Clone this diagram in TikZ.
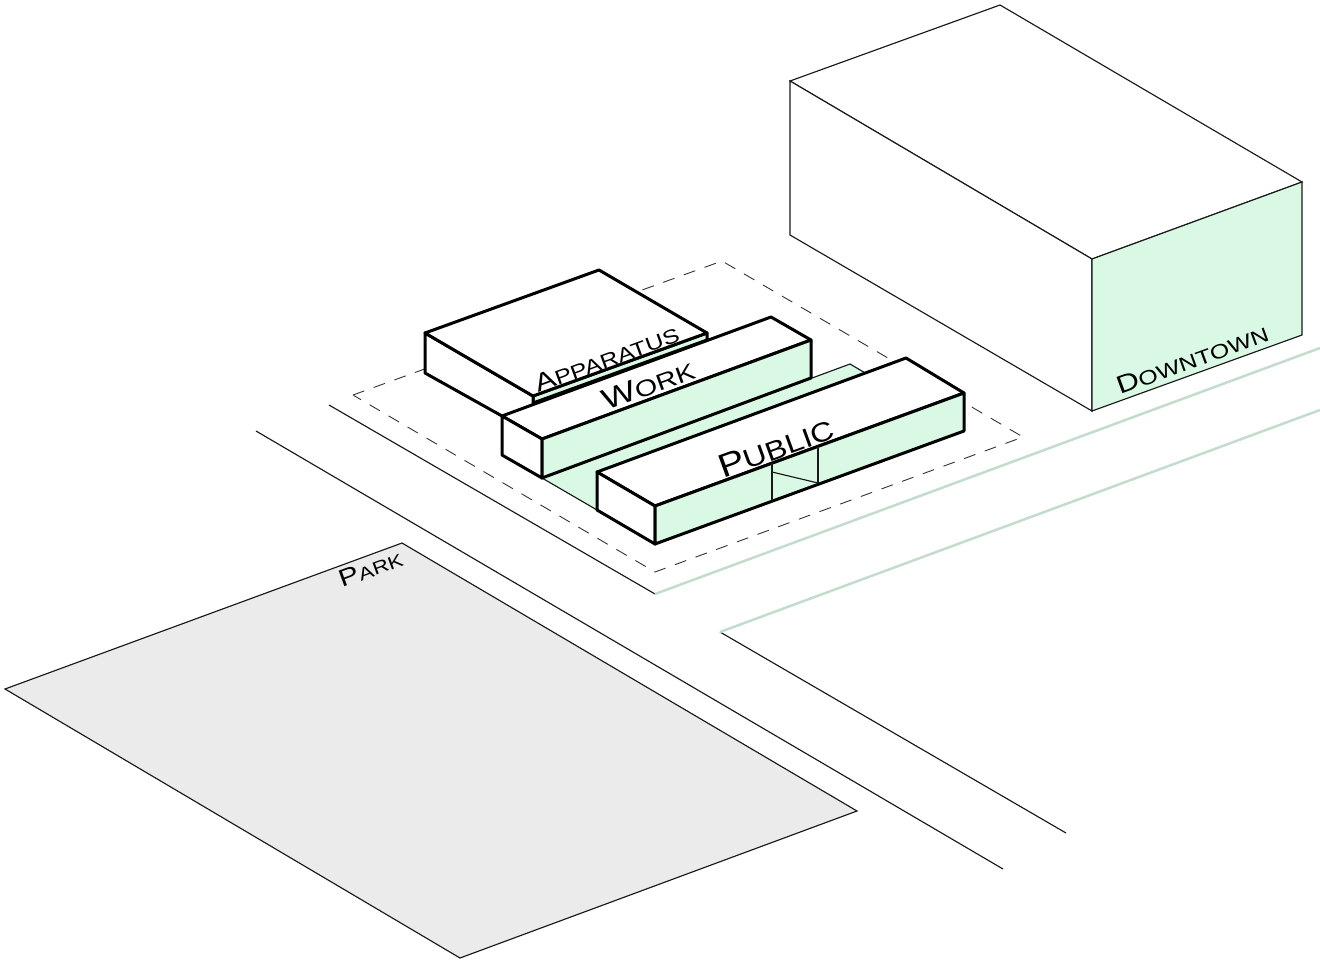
\documentclass[tikz,border=0pt]{standalone}
\usepackage{fontspec}
\setmainfont{Liberation Sans}
\usetikzlibrary{positioning}
\definecolor{facegreen}{HTML}{DAF9E4}
\definecolor{roadgreen}{HTML}{C4DCCB}
\definecolor{parkgray}{HTML}{EBEBEB}
\newcommand{\capword}[4]{{\fontsize{#1}{#1}\selectfont #3\fontsize{#2}{#2}\selectfont #4}}

\begin{document}
\begin{tikzpicture}[
    x=1pt,
    y=-1pt,
    thinline/.style={draw=black!90,line width=1.15pt,line join=miter},
    boldline/.style={draw=black,line width=3pt,line join=round},
    siteline/.style={draw=black!80,line width=0.9pt,dash pattern=on 12pt off 10pt},
    roadline/.style={draw=roadgreen,line width=2.5pt},
    greenface/.style={fill=facegreen},
    maplabel/.style={anchor=base west,inner sep=0pt,rotate=20,xscale=#1,text=black},
    maplabel/.default=1.25
]
\useasboundingbox (0,0) rectangle (1320,966);

% Park
\path[thinline,fill=parkgray] (402,543) -- (5,689) -- (460,958) -- (857,811) -- cycle;

% Streets
\draw[thinline] (256,431) -- (1003,869);
\draw[thinline] (329,405) -- (655,594);
\draw[thinline] (720,632) -- (1066,833);
\draw[roadline] (655,594) -- (1320,348);
\draw[roadline] (720,632) -- (1320,410);

% Downtown block
\path[thinline,fill=white] (790,81) -- (1000,5) -- (1302,182) -- (1092,259) -- cycle;
\path[thinline,fill=white] (790,81) -- (1092,259) -- (1092,411) -- (790,235) -- cycle;
\path[thinline,greenface] (1092,259) -- (1302,182) -- (1302,335) -- (1092,411) -- cycle;

% Site boundary
\draw[siteline] (353,395) -- (722,261) -- (1023,437) -- (655,572) -- cycle;

% Ground strip between the bars
\path[thinline,greenface] (542,478) -- (850,364) -- (906,397) -- (597,510) -- cycle;

% Apparatus
\path[boldline,greenface] (533,396) -- (707,333) -- (707,340) -- (533,403) -- cycle;
\path[boldline,fill=white] (425,333) -- (533,396) -- (533,440) -- (502,416) -- (425,373) -- cycle;
\path[boldline,fill=white] (425,333) -- (599,270) -- (707,333) -- (533,396) -- cycle;

% Work
\path[boldline,fill=white] (502,416) -- (771,317) -- (811,340) -- (542,439) -- cycle;
\path[boldline,fill=white] (502,416) -- (542,439) -- (542,478) -- (502,455) -- cycle;
\path[boldline,greenface] (542,439) -- (811,340) -- (811,378) -- (542,478) -- cycle;

% Public
\path[boldline,fill=white] (597,472) -- (906,358) -- (964,393) -- (655,506) -- cycle;
\path[boldline,fill=white] (597,472) -- (655,506) -- (655,544) -- (597,510) -- cycle;
\path[boldline,greenface] (655,506) -- (964,393) -- (964,431) -- (655,544) -- cycle;

% Door
\draw[thinline] (772,463) -- (772,500);
\draw[thinline] (818,447) -- (818,483);
\draw[thinline] (772,472) -- (818,483);

% Labels
\node[maplabel] (apparatus) at (538,393) {\capword{25pt}{20pt}{A}{PPARATUS}};
\node[maplabel] (work) at (606,411) {\capword{29pt}{23pt}{W}{ORK}};
\node[maplabel=1.19] (public) at (723,479) {\capword{33pt}{27pt}{P}{UBLIC}};
\node[maplabel] (downtown) at (1120,395) {\capword{25pt}{20pt}{D}{OWNTOWN}};
\node[maplabel] (park) at (342,588) {\capword{24pt}{18pt}{P}{ARK}};

\end{tikzpicture}
\end{document}
